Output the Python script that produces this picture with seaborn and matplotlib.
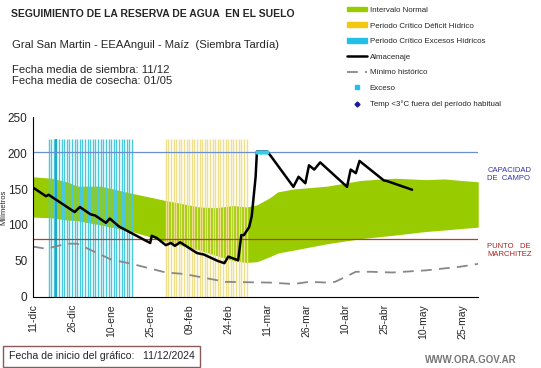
import numpy as np
import pandas as pd
import matplotlib
matplotlib.use("Agg")
import matplotlib.pyplot as plt
import seaborn as sns
from matplotlib.lines import Line2D
from matplotlib.patches import Patch

# days since 11-dic
tick_days = [0, 15, 30, 45, 60, 75, 90, 105, 120, 135, 150, 165]
tick_labels = ["11-dic", "26-dic", "10-ene", "25-ene", "09-feb", "24-feb",
               "11-mar", "26-mar", "10-abr", "25-abr", "10-may", "25-may"]

# intervalo normal (green band)
band_days = [0, 7, 13, 17, 26, 38, 51, 64, 70, 77, 82, 86, 91, 94, 100,
             113, 126, 139, 151, 158, 164, 171]
band_upper = [167, 165, 160, 154, 154, 144, 134, 125, 124, 127, 125, 128,
              138, 146, 150, 154, 162, 165, 163, 164, 162, 160]
band_lower = [111, 110, 107, 106, 100, 91, 77, 65, 58, 50, 48, 49, 56, 61,
              65, 74, 81, 86, 91, 93, 95, 97]

# almacenaje
alm_days = [0, 5, 6, 16, 18, 22, 24, 28, 29.5, 33, 45, 45.6, 47.5, 51, 53,
            54.5, 56.5, 63, 65.6, 71, 73.5, 75, 78.8, 80, 81, 83, 84, 85.5,
            86, 90, 91.5, 100, 102, 104.6, 106, 108, 110.3, 120.6, 122, 124,
            125.4, 134.7, 136, 145.6]
alm_vals = [152, 140, 142, 118, 125, 115, 113, 103, 109, 98, 75, 85, 82, 72,
            75, 71, 76, 61, 59, 50, 47, 56, 51, 86, 86, 97, 112, 167, 202,
            202, 195, 153, 167, 158, 183, 177, 187, 153, 177, 172, 189, 162,
            161, 149]

# exceso
exc_days = [86, 87, 88, 89, 90]
exc_vals = [202, 202, 202, 202, 202]

# minimo historico
min_days = [0, 5, 13, 17, 30, 38, 51, 58, 74, 91, 100, 106, 113, 116, 124,
            130, 138, 151, 164, 171]
min_vals = [70, 67, 74, 74, 52, 46, 34, 32, 21, 20, 18, 21, 20, 21, 35, 35,
            34, 37, 42, 46]

# periodos criticos (one bar per day)
exceso_periodo = list(range(6, 39))
deficit_periodo = list(range(51, 83))
bar_top = 220

capacidad = 202
marchitez = 81

sns.set_style("white")
plt.rcParams["font.family"] = ["Liberation Sans", "DejaVu Sans"]

fig = plt.figure(figsize=(5.41, 3.68), dpi=100)
ax = fig.add_axes([0.061, 0.193, 0.823, 0.489])

ax.vlines(exceso_periodo, 0, bar_top, color="#4cc8dc", lw=1.0)
ax.vlines([9], 0, bar_top, color="#1fa8c8", lw=1.6)
ax.vlines(deficit_periodo, 0, bar_top, color="#eee08a", lw=1.0)

ax.fill_between(band_days, band_lower, band_upper, color="#99cc00", lw=0)

ax.axhline(capacidad, color="#6a8fd0", lw=0.9)
ax.axhline(marchitez, color="#c0392b", lw=0.9)

sns.lineplot(x=min_days, y=min_vals, ax=ax, color="#888888", lw=1.3,
             linestyle=(0, (6, 4)))
sns.lineplot(x=alm_days, y=alm_vals, ax=ax, color="black", lw=1.8)
sns.lineplot(x=exc_days, y=exc_vals, ax=ax, color="#33ccee", lw=2.5,
             marker="o", markersize=3, markeredgewidth=0)

ax.set_xlim(0, 171)
ax.set_ylim(0, 250)
ax.set_xticks(tick_days)
ax.set_xticklabels(tick_labels, rotation=90, fontsize=7.5)
ax.set_yticks([0, 50, 100, 150, 200, 250])
ax.tick_params(axis="y", labelsize=8.5, length=3, pad=1)
ax.tick_params(axis="x", length=3, pad=2)
ax.tick_params(direction="out", color="black", width=0.8)
ax.set_ylabel("Milímetros", fontsize=5.5)
ax.yaxis.set_label_coords(-0.058, 0.5)
for s in ["top", "right"]:
    ax.spines[s].set_visible(False)
for s in ["left", "bottom"]:
    ax.spines[s].set_color("black")
    ax.spines[s].set_linewidth(0.8)

ax.text(1.02, 0.678, "CAPACIDAD\nDE  CAMPO", transform=ax.transAxes,
        color="#3333aa", fontsize=5.5, va="center")
ax.text(1.02, 0.256, "PUNTO   DE\nMARCHITEZ", transform=ax.transAxes,
        color="#aa2222", fontsize=5.5, va="center")

fig.text(0.02, 0.962, "SEGUIMIENTO DE LA RESERVA DE AGUA  EN EL SUELO",
         fontsize=7.5, fontweight="bold", va="center")
fig.text(0.022, 0.877, "Gral San Martin - EEAAnguil - Maíz  (Siembra Tardía)",
         fontsize=8.1, va="center")
fig.text(0.022, 0.81, "Fecha media de siembra: 11/12", fontsize=8.1, va="center")
fig.text(0.022, 0.779, "Fecha media de cosecha: 01/05", fontsize=8.1, va="center")

handles = [
    Patch(color="#99cc00", label="Intervalo Normal"),
    Patch(color="#f2c811", label="Periodo Crítico Déficit Hídrico"),
    Patch(color="#22c0e8", label="Periodo Crítico Excesos Hídricos"),
    Line2D([], [], color="black", lw=1.8, label="Almacenaje"),
    Line2D([], [], color="#888888", lw=1.3, linestyle=(0, (6, 4)), label="Mínimo histórico"),
    Line2D([], [], color="#22c0e8", marker="s", markersize=2.5, lw=0, label="Exceso"),
    Line2D([], [], color="#1a1a99", marker="D", markersize=2.5, lw=0,
           label="Temp <3°C fuera del período habitual"),
]
fig.legend(handles=handles, loc="upper left", bbox_to_anchor=(0.635, 0.99),
           frameon=False, fontsize=5.7, handlelength=2.6, handleheight=0.5,
           labelspacing=1.08, handletextpad=0.3, borderaxespad=0)

fig.text(0.016, 0.032, "Fecha de inicio del gráfico:   11/12/2024",
         fontsize=7.6, va="center",
         bbox=dict(boxstyle="square,pad=0.5", fc="white", ec="#8a5a5a", lw=1))
fig.text(0.785, 0.022, "WWW.ORA.GOV.AR", fontsize=7, color="#777777",
         fontweight="bold", va="center")

fig.savefig("out.png", dpi=100)
